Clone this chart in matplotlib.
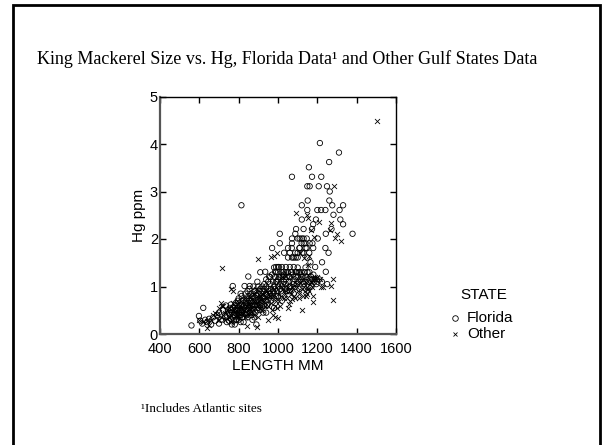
import matplotlib.pyplot as plt
from matplotlib.lines import Line2D
from matplotlib.patches import Rectangle

# Florida samples (length mm, Hg ppm)
fl_len = [560, 598, 620, 605, 615, 630, 640, 650, 660, 670, 680, 690, 700, 700, 710, 720, 730, 735, 740, 750,
          755, 760, 765, 770, 775, 780, 785, 790, 795, 800, 805, 810, 815, 820, 825, 830, 835, 840, 845, 849,
          850, 855, 856, 860, 865, 870, 875, 880, 885, 890, 895, 900, 905, 910, 915, 920, 925, 930, 935, 940,
          945, 950, 955, 960, 965, 970, 975, 980, 985, 990, 995, 1000, 1005, 1009, 1009, 1010, 1015, 1020, 1025, 1030,
          1031, 1040, 1045, 1051, 1051, 1056, 1060, 1065, 1071, 1071, 1071, 1071, 1075, 1080, 1088, 1088, 1090, 1092, 1095, 1100,
          1105, 1109, 1110, 1115, 1121, 1121, 1121, 1123, 1128, 1130, 1131, 1135, 1140, 1146, 1146, 1149, 1149, 1149, 1151, 1157,
          1159, 1161, 1161, 1165, 1167, 1173, 1173, 1175, 1179, 1179, 1185, 1189, 1193, 1200, 1202, 1207, 1213, 1219, 1220, 1223,
          1224, 1241, 1241, 1243, 1243, 1249, 1250, 1257, 1260, 1261, 1263, 1272, 1276, 1282, 1310, 1313, 1317, 1331, 1331, 1379,
          814, 760, 770, 780, 790, 800, 810, 820, 830, 840, 850, 860, 870, 880, 890, 900, 910, 920, 930, 940,
          950, 960, 970, 980, 990, 1000, 1010, 1020, 1030, 1040, 1050, 1060, 1070, 1080, 1090, 1100, 1110, 1120, 1130, 1150,
          1160, 1170, 1180, 1190, 1200, 800, 780, 810, 870, 940, 980, 1000, 1020, 1040, 1060, 1100, 1120, 1140, 1060, 1080,
          1080, 1090, 1100, 1110, 1120, 1130, 1140, 1100, 1110, 1130, 1140, 1070, 1060]
fl_hg = [0.18, 0.38, 0.55, 0.28, 0.22, 0.30, 0.25, 0.32, 0.20, 0.35, 0.28, 0.40, 0.45, 0.22, 0.30, 0.50, 0.38, 0.60, 0.25, 0.45,
         0.55, 0.32, 0.20, 1.01, 0.40, 0.60, 0.30, 0.50, 0.70, 0.45, 0.35, 0.60, 0.80, 0.50, 0.25, 1.01, 0.65, 0.40, 0.90, 1.21,
         0.55, 0.70, 1.01, 0.45, 0.85, 0.60, 1.00, 0.35, 0.75, 0.20, 1.10, 0.55, 0.90, 1.30, 0.65, 1.00, 0.45, 0.80, 1.31, 1.15,
         0.60, 0.95, 1.21, 1.05, 0.70, 1.81, 0.90, 1.40, 1.20, 0.80, 1.10, 1.30, 1.41, 2.11, 1.91, 0.95, 1.20, 0.70, 1.21, 1.10,
         1.71, 1.30, 0.90, 1.81, 1.61, 1.21, 1.00, 1.30, 2.01, 1.91, 1.61, 3.31, 1.10, 0.85, 2.11, 1.71, 1.21, 2.21, 1.05, 1.61,
         1.30, 1.81, 0.95, 1.15, 2.01, 2.41, 2.71, 1.71, 1.21, 2.21, 1.91, 1.30, 1.10, 2.01, 1.81, 1.61, 2.61, 3.11, 2.81, 3.51,
         1.71, 3.11, 1.91, 1.51, 1.21, 3.31, 2.21, 1.91, 2.31, 1.81, 1.10, 1.41, 2.41, 2.61, 2.01, 3.11, 4.02, 2.61, 3.31, 1.10,
         1.51, 2.61, 1.81, 2.11, 1.31, 3.11, 1.05, 1.71, 3.62, 2.81, 3.00, 2.21, 2.71, 2.51, 3.82, 2.61, 2.41, 2.71, 2.31, 2.11,
         2.71, 0.50, 0.35, 0.45, 0.30, 0.60, 0.40, 0.70, 0.55, 0.60, 0.80, 0.65, 0.45, 0.90, 0.70, 0.85, 0.60, 0.75, 1.05, 0.85,
         1.10, 0.85, 1.25, 1.00, 1.30, 1.15, 1.05, 1.30, 1.25, 1.15, 1.30, 1.20, 1.30, 1.05, 1.30, 1.20, 1.30, 1.20, 1.05, 1.30,
         1.15, 1.00, 1.25, 1.15, 1.10, 0.30, 0.20, 0.25, 0.30, 0.45, 0.55, 0.80, 1.00, 1.05, 0.90, 1.40, 1.30, 1.40, 1.41, 1.41,
         1.61, 1.61, 1.71, 1.81, 1.91, 1.71, 1.81, 2.01, 2.01, 2.01, 1.91, 1.81, 1.71]

# Florida samples inside the dense core of the cloud
fl_core_len = [740, 745, 750, 755, 760, 765, 770, 775, 780, 785, 790, 795, 800, 800, 805, 810, 815, 815, 820, 825,
               825, 830, 835, 835, 840, 845, 845, 850, 855, 855, 860, 865, 865, 870, 875, 875, 880, 885, 885, 890,
               895, 895, 900, 900, 905, 910, 910, 915, 920, 920, 925, 930, 930, 935, 940, 945, 950, 955, 960, 965,
               970, 975, 980, 985, 990, 995, 1000, 1005, 1015, 1025, 1035, 1045, 1055, 1065, 1075, 1085, 1095, 1105, 1115, 1125,
               1145, 1155, 1175, 1195, 1210, 1160, 1000, 990, 1020, 1040, 985, 1030]
fl_core_hg = [0.35, 0.50, 0.28, 0.40, 0.62, 0.45, 0.55, 0.28, 0.50, 0.65, 0.42, 0.55, 0.38, 0.75, 0.50, 0.85, 0.45, 0.62, 0.35, 0.58,
              0.72, 0.42, 0.50, 0.85, 0.70, 0.52, 0.35, 0.65, 0.45, 0.95, 0.58, 0.70, 0.40, 0.80, 0.52, 0.68, 0.60, 0.90, 0.45, 0.82,
              0.62, 0.50, 0.72, 1.00, 0.68, 0.50, 0.95, 0.85, 0.62, 0.90, 0.78, 0.60, 0.95, 0.70, 1.00, 0.82, 0.72, 0.90, 1.20, 0.95,
              0.80, 1.10, 0.75, 0.95, 1.10, 0.90, 1.00, 1.20, 0.90, 1.05, 0.95, 1.20, 1.10, 1.00, 1.25, 1.15, 1.30, 1.10, 1.25, 1.10,
              1.20, 1.10, 1.15, 1.05, 1.15, 1.30, 1.41, 1.41, 1.41, 1.41, 1.31, 1.31]

# Other Gulf states samples
ot_len = [1505, 717, 898, 1286, 1094, 1149, 1209, 1270, 1266, 1300, 1288, 1320, 1185, 962, 981, 996, 1280, 1270, 1218, 1280,
          1120, 1177, 1179, 1140, 1149, 842, 893, 637, 999, 986, 1071, 1056, 1107,
          600, 620, 650, 680, 700, 710, 715, 720, 730, 740, 750, 760, 770, 780, 790, 800, 810, 820, 830, 840,
          850, 860, 870, 880, 890, 900, 910, 920, 930, 940, 950, 960, 970, 980, 990, 1000, 1010, 1020, 1030, 1040,
          1050, 1060, 1070, 1080, 1090, 1100, 1110, 1120, 1130, 1140, 1150, 1160, 1170, 1190, 1150, 1160, 1110, 1130,
          1150, 1170, 1200, 1215, 1230, 760, 900, 950, 975, 1050, 700, 640]
ot_hg = [4.49, 1.39, 1.58, 3.11, 2.55, 2.51, 2.36, 2.33, 2.20, 2.11, 2.02, 1.95, 2.05, 1.62, 1.64, 1.71, 1.15, 1.02, 0.98, 0.72,
         0.50, 0.67, 0.81, 0.81, 0.85, 0.16, 0.15, 0.13, 0.33, 0.36, 0.73, 0.64, 0.76,
         0.30, 0.25, 0.20, 0.45, 0.55, 0.65, 0.60, 0.40, 0.30, 0.50, 0.35, 0.25, 0.90, 0.60, 0.40, 0.55, 0.70, 0.45, 0.35, 0.60,
         0.50, 0.75, 0.55, 0.40, 0.95, 0.60, 0.80, 0.50, 0.70, 0.90, 0.60, 0.80, 0.50, 0.95, 0.70, 0.85, 0.60, 1.20, 0.75, 0.90,
         1.00, 0.70, 1.00, 0.80, 1.05, 0.90, 1.10, 0.95, 1.00, 1.10, 1.25, 0.90, 1.10, 1.20, 1.45, 1.65, 1.70, 1.60,
         2.45, 2.20, 1.20, 1.15, 1.00, 0.95, 0.35, 0.30, 0.40, 0.55, 0.30, 0.28]

# Other samples inside the dense core
ot_core_len = [750, 760, 770, 775, 785, 790, 795, 805, 810, 815, 825, 830, 835, 845, 850, 855, 860, 865, 875, 880,
               885, 890, 895, 905, 910, 915, 925, 935, 945, 955, 965, 975, 985, 995, 1005, 1015, 1025, 1035, 1045, 1055,
               1065, 1075, 1085, 1095, 1105, 1125, 1135, 1145, 1155, 1165, 1175, 1185, 730, 720, 690, 670, 660, 710]
ot_core_hg = [0.55, 0.40, 0.65, 0.50, 0.45, 0.70, 0.35, 0.62, 0.45, 0.55, 0.50, 0.75, 0.40, 0.65, 0.80, 0.55, 0.45, 0.62, 0.85, 0.70,
              0.55, 0.65, 0.80, 0.70, 0.55, 0.75, 0.85, 0.60, 0.75, 0.85, 0.65, 0.80, 0.60, 0.55, 0.70, 0.80, 0.95, 0.85, 0.75, 0.90,
              0.85, 0.95, 0.75, 1.00, 0.85, 0.80, 0.90, 1.00, 0.95, 1.05, 1.00, 1.15, 0.45, 0.60, 0.42, 0.40, 0.30, 0.35]

x_ticks = [400, 600, 800, 1000, 1200, 1400, 1600]
y_ticks = [0, 1, 2, 3, 4, 5]

sans = "Liberation Sans"
serif = "Liberation Serif"

fig = plt.figure(figsize=(6.02, 4.45), dpi=100)
ax = fig.add_axes([160 / 602, 1 - 334 / 445, 236 / 602, 237.5 / 445])

ax.scatter(fl_len + fl_core_len, fl_hg + fl_core_hg, s=15, marker="o", facecolors="none",
           edgecolors="black", linewidths=0.6)
ax.scatter(ot_len + ot_core_len, ot_hg + ot_core_hg, s=13, marker="x", color="black", linewidths=0.6)

ax.set_xlim(400, 1600)
ax.set_ylim(0, 5)
ax.set_xticks(x_ticks)
ax.set_yticks(y_ticks)
ax.tick_params(direction="in", length=4, width=1, top=True, right=True, labelsize=10.5)
ax.tick_params(axis="x", pad=6)
ax.tick_params(axis="y", pad=1.5)
for lab in ax.get_xticklabels() + ax.get_yticklabels():
    lab.set_fontfamily(sans)

for side in ["left", "bottom"]:
    ax.spines[side].set_color("#555555")
    ax.spines[side].set_linewidth(1.6)
for side in ["top", "right"]:
    ax.spines[side].set_linewidth(1.0)

ax.set_xlabel("LENGTH MM", family=sans, fontsize=11, labelpad=2)
ax.set_ylabel("Hg ppm", family=sans, fontsize=11, labelpad=3)

# legend drawn by hand to sit where it does in the original
fig.text(484 / 602, 1 - 295 / 445, "STATE", family=sans, fontsize=11, ha="center", va="center")
fig.add_artist(Line2D([455 / 602], [1 - 318 / 445], marker="o", markersize=4, markerfacecolor="none",
                      markeredgecolor="black", markeredgewidth=0.6, transform=fig.transFigure))
fig.add_artist(Line2D([455 / 602], [1 - 334 / 445], marker="x", markersize=3.5, color="black",
                      markeredgewidth=0.6, transform=fig.transFigure))
fig.text(467 / 602, 1 - 318 / 445, "Florida", family=sans, fontsize=11, va="center")
fig.text(467 / 602, 1 - 334 / 445, "Other", family=sans, fontsize=11, va="center")

fig.text(37 / 602, 1 - 59 / 445, "King Mackerel Size vs. Hg, Florida Data\u00b9 and Other Gulf States Data",
         family=serif, fontsize=13, va="center")
fig.text(141 / 602, 1 - 409 / 445, "\u00b9Includes Atlantic sites", family=serif, fontsize=9.5, va="center")

# slide frame
fig.add_artist(Rectangle((13 / 602, -0.1), 587 / 602, 1.1 - 5 / 445, fill=False, edgecolor="black",
                         linewidth=2, transform=fig.transFigure))

fig.savefig("out.png", dpi=100)
